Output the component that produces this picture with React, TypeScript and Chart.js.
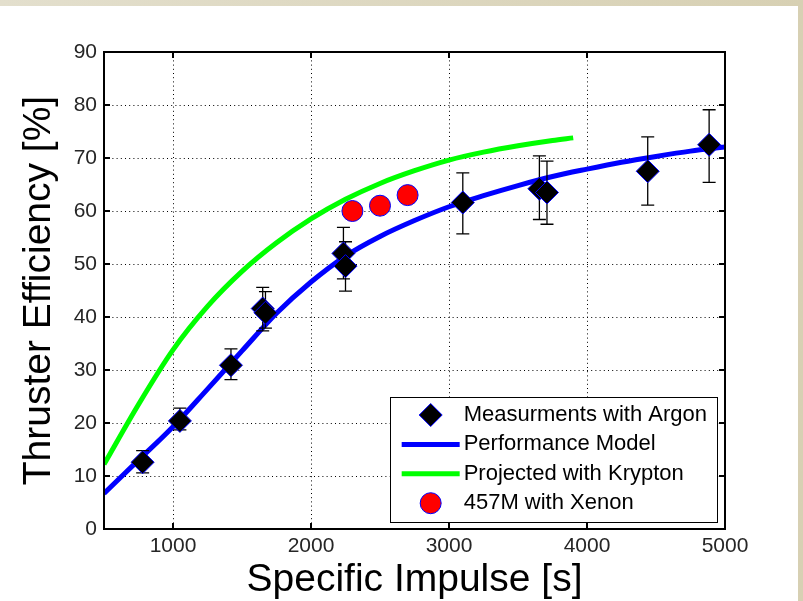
import React, { useEffect, useRef } from 'react';
import { Chart, registerables } from 'chart.js';

Chart.register(...registerables);

// ---- data ----
const argonX = [780, 1050, 1420, 1650, 1670, 2235, 2250, 3100, 3655, 3710, 4440, 4885];
const argonY = [12.6, 20.4, 30.9, 41.6, 40.8, 52.0, 49.6, 61.6, 64.2, 63.5, 67.5, 72.5];
const argonLow = [10.6, 18.7, 28.2, 37.4, 37.9, 47.2, 44.9, 55.7, 58.4, 57.5, 61.1, 65.4];
const argonHigh = [14.8, 22.8, 34.0, 45.6, 44.8, 56.9, 54.2, 67.2, 70.4, 69.4, 74.0, 79.1];

const modelX = [500, 750, 1000, 1250, 1500, 1750, 2000, 2250, 2500, 2750, 3000, 3250, 3500, 3750, 4000, 4250, 4500, 4750, 5000];
const modelY = [6.7, 13.0, 19.3, 26.4, 33.6, 40.7, 46.6, 51.5, 55.2, 58.2, 60.8, 62.9, 64.8, 66.5, 67.9, 69.2, 70.3, 71.3, 72.1];

const kryptonX = [500, 750, 1000, 1250, 1500, 1750, 2000, 2250, 2500, 2750, 3000, 3250, 3500, 3750, 3900];
const kryptonY = [12.2, 23.5, 33.8, 42.0, 48.6, 54.0, 58.5, 62.2, 65.2, 67.6, 69.6, 71.1, 72.3, 73.3, 73.8];

const xenonX = [2300, 2500, 2700];
const xenonY = [60.0, 61.0, 63.0];

const xTicks = [1000, 2000, 3000, 4000, 5000];

const seriesLabels = ['Measurments with Argon', 'Performance Model', 'Projected with Krypton', '457M with Xenon'];
const xTitle = 'Specific Impulse [s]';
const yTitle = 'Thruster Efficiency [%]';

const FONT = '"Liberation Sans", Arial, Helvetica, sans-serif';

const errorBarPlugin = {
  id: 'errorBars',
  beforeDatasetDraw(chart: any, args: any) {
    if (args.index !== 0) return;
    const { ctx } = chart;
    const x = chart.scales.x;
    const y = chart.scales.y;
    ctx.save();
    ctx.strokeStyle = '#000';
    ctx.lineWidth = 1.3;
    ctx.setLineDash([]);
    argonX.forEach((v, i) => {
      const px = x.getPixelForValue(v);
      const y1 = y.getPixelForValue(argonLow[i]);
      const y2 = y.getPixelForValue(argonHigh[i]);
      ctx.beginPath();
      ctx.moveTo(px, y1);
      ctx.lineTo(px, y2);
      ctx.moveTo(px - 6.5, y1);
      ctx.lineTo(px + 6.5, y1);
      ctx.moveTo(px - 6.5, y2);
      ctx.lineTo(px + 6.5, y2);
      ctx.stroke();
    });
    ctx.restore();
  },
};

const legendPlugin = {
  id: 'boxLegend',
  afterDatasetsDraw(chart: any) {
    const { ctx, chartArea } = chart;
    const ds = chart.data.datasets;
    const order = [0, 1, 2, 3];
    ctx.save();
    ctx.font = `22px ${FONT}`;
    let maxW = 0;
    order.forEach((i) => {
      maxW = Math.max(maxW, ctx.measureText(ds[i].label).width);
    });
    const textOff = 74;
    const w = textOff + maxW + 10;
    const h = 125;
    const bx = chartArea.right - 8 - w;
    const by = chartArea.bottom - 7 - h;
    ctx.fillStyle = '#fff';
    ctx.fillRect(bx, by, w, h);
    ctx.strokeStyle = '#000';
    ctx.lineWidth = 1;
    ctx.setLineDash([]);
    ctx.strokeRect(Math.round(bx) + 0.5, Math.round(by) + 0.5, Math.round(w), Math.round(h));
    order.forEach((i, k) => {
      const d = ds[i];
      const cy = by + 18 + k * 29.4;
      const mx = bx + 41;
      if (d.showLine === false) {
        ctx.beginPath();
        if (d.pointStyle === 'rectRot') {
          const r = d.pointRadius;
          ctx.moveTo(mx - r, cy);
          ctx.lineTo(mx, cy - r);
          ctx.lineTo(mx + r, cy);
          ctx.lineTo(mx, cy + r);
          ctx.closePath();
        } else {
          ctx.arc(mx, cy, d.pointRadius, 0, Math.PI * 2);
        }
        ctx.fillStyle = d.pointBackgroundColor;
        ctx.fill();
        ctx.strokeStyle = d.pointBorderColor;
        ctx.lineWidth = d.pointBorderWidth;
        ctx.stroke();
      } else {
        ctx.beginPath();
        ctx.moveTo(bx + 12, cy);
        ctx.lineTo(bx + 70, cy);
        ctx.strokeStyle = d.borderColor;
        ctx.lineWidth = d.borderWidth;
        ctx.stroke();
      }
      ctx.fillStyle = '#000';
      ctx.textBaseline = 'middle';
      ctx.textAlign = 'left';
      ctx.fillText(d.label, bx + textOff, cy);
    });
    ctx.restore();
  },
};

const framePlugin = {
  id: 'frame',
  afterDraw(chart: any) {
    const { ctx, chartArea } = chart;
    const { left, right, top, bottom } = chartArea;
    const x = chart.scales.x;
    const y = chart.scales.y;
    ctx.save();
    ctx.setLineDash([]);
    ctx.strokeStyle = '#000';
    ctx.lineWidth = 2;
    ctx.strokeRect(left, top, right - left, bottom - top);
    const tl = 6;
    ctx.beginPath();
    x.ticks.forEach((t: any) => {
      const px = x.getPixelForValue(t.value);
      if (px <= left + 1 || px >= right - 1) return;
      ctx.moveTo(px, bottom);
      ctx.lineTo(px, bottom - tl);
      ctx.moveTo(px, top);
      ctx.lineTo(px, top + tl);
    });
    y.ticks.forEach((t: any) => {
      const py = y.getPixelForValue(t.value);
      if (py <= top + 1 || py >= bottom - 1) return;
      ctx.moveTo(left, py);
      ctx.lineTo(left + tl, py);
      ctx.moveTo(right, py);
      ctx.lineTo(right - tl, py);
    });
    ctx.stroke();
    ctx.restore();
  },
};

export default function App() {
  const ref = useRef<HTMLCanvasElement>(null);

  useEffect(() => {
    if (!ref.current) return;
    const toXY = (xs: number[], ys: number[]) => xs.map((v, i) => ({ x: v, y: ys[i] }));
    const chart = new Chart(ref.current, {
      type: 'scatter',
      data: {
        datasets: [
          {
            label: seriesLabels[0],
            data: toXY(argonX, argonY),
            showLine: false,
            pointStyle: 'rectRot',
            pointRadius: 11.5,
            pointBackgroundColor: '#000',
            pointBorderColor: '#0000ff',
            pointBorderWidth: 1,
          },
          {
            label: seriesLabels[1],
            data: toXY(modelX, modelY),
            showLine: true,
            borderColor: '#0000ff',
            borderWidth: 5,
            pointRadius: 0,
            cubicInterpolationMode: 'monotone',
          },
          {
            label: seriesLabels[2],
            data: toXY(kryptonX, kryptonY),
            showLine: true,
            borderColor: '#00ff00',
            borderWidth: 5,
            pointRadius: 0,
            cubicInterpolationMode: 'monotone',
          },
          {
            label: seriesLabels[3],
            data: toXY(xenonX, xenonY),
            showLine: false,
            pointStyle: 'circle',
            pointRadius: 10.5,
            pointBackgroundColor: '#ff0000',
            pointBorderColor: '#0000ff',
            pointBorderWidth: 1,
          },
        ] as any,
      },
      options: {
        animation: false,
        responsive: false,
        devicePixelRatio: 1,
        layout: { padding: { top: 46, right: 73, left: 0, bottom: 0 } },
        plugins: {
          legend: { display: false },
          tooltip: { enabled: false },
        },
        scales: {
          x: {
            type: 'linear',
            min: 500,
            max: 5000,
            afterBuildTicks: (s: any) => {
              s.ticks = xTicks.map((v) => ({ value: v }));
            },
            afterFit: (s: any) => {
              s.height = 72;
            },
            ticks: {
              font: { family: FONT, size: 21 },
              color: '#262626',
              padding: 5,
              maxRotation: 0,
              autoSkip: false,
              callback: (v: any) => String(v),
            },
            grid: { color: '#000', lineWidth: 1, drawTicks: false },
            border: { display: false, dash: [1, 3.2] },
            title: {
              display: true,
              text: xTitle,
              color: '#000',
              font: { family: FONT, size: 39, lineHeight: 1 },
              padding: { top: 0, bottom: 1 },
            },
          },
          y: {
            type: 'linear',
            min: 0,
            max: 90,
            afterFit: (s: any) => {
              s.width = 104;
            },
            ticks: {
              stepSize: 10,
              font: { family: FONT, size: 21 },
              color: '#262626',
              padding: 7,
              callback: (v: any) => String(v),
            },
            grid: { color: '#000', lineWidth: 1, drawTicks: false },
            border: { display: false, dash: [1, 3.2] },
            title: {
              display: true,
              text: yTitle,
              color: '#000',
              font: { family: FONT, size: 39, lineHeight: 1 },
              padding: { top: 20, bottom: 0 },
            },
          },
        },
      } as any,
      plugins: [errorBarPlugin, legendPlugin, framePlugin],
    });
    return () => chart.destroy();
  }, []);

  return (
    <div
      style={{
        position: 'fixed',
        left: 0,
        top: 0,
        width: 803,
        height: 601,
        background: 'linear-gradient(90deg, #e3dfcd 0%, #d7d0b3 100%)',
        overflow: 'hidden',
      }}
    >
      <canvas
        ref={ref}
        width={798}
        height={595}
        style={{ position: 'absolute', left: 0, top: 6, width: 798, height: 595, background: '#fff' }}
      />
    </div>
  );
}
